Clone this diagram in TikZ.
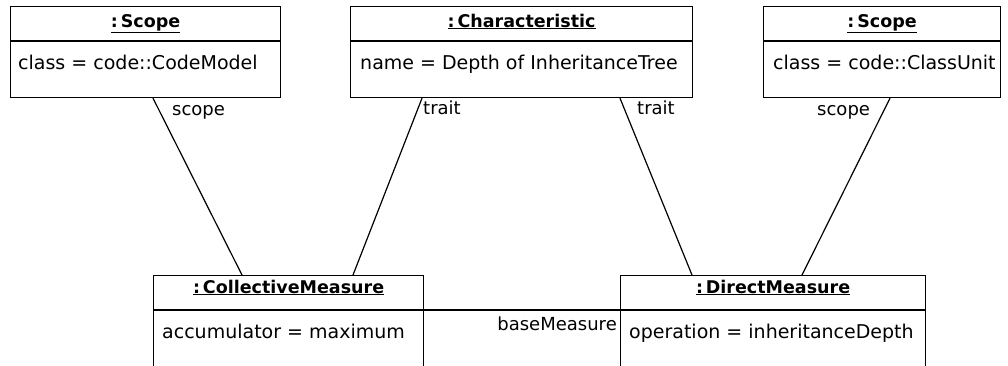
\documentclass[tikz,border=0pt]{standalone}
\usepackage{fontspec}
\setmainfont{DejaVu Sans}
\usetikzlibrary{calc}
\tikzset{
  objbox/.style={draw, line width=1.2pt, rectangle, inner sep=0pt, anchor=north west},
  objtitle/.style={anchor=base, inner sep=0pt, font=\fontsize{17.5}{20}\selectfont\bfseries},
  objattr/.style={anchor=base west, inner sep=0pt, font=\fontsize{19}{22}\selectfont},
  rolename/.style={inner sep=0pt, font=\fontsize{18}{21}\selectfont},
  link/.style={line width=1.2pt},
}
\begin{document}
\begin{tikzpicture}[x=1pt,y=-1pt]
\useasboundingbox (0,0) rectangle (1008,365);
\clip (0,0) rectangle (1008,365);
\fill[white] (0,0) rectangle (1008,365);

% object boxes
\node[objbox, minimum width=270pt, minimum height=91pt] (scopeL) at (10,6) {};
\node[objbox, minimum width=342pt, minimum height=91pt] (charac) at (350,6) {};
\node[objbox, minimum width=237pt, minimum height=91pt] (scopeR) at (763,6) {};
\node[objbox, minimum width=270pt, minimum height=110pt] (coll) at (153,275) {};
\node[objbox, minimum width=305pt, minimum height=110pt] (direct) at (620,275) {};

% compartment separators
\foreach \b in {scopeL,charac,scopeR,coll,direct}
  \draw[link] ([yshift=-35pt]\b.north west) -- ([yshift=-35pt]\b.north east);

% titles
\node[objtitle] (tScopeL) at ([yshift=-21pt]scopeL.north) {\underline{:\,Scope}};
\node[objtitle] (tCharac) at ([yshift=-21pt]charac.north) {\underline{:\,Characteristic}};
\node[objtitle] (tScopeR) at ([yshift=-21pt]scopeR.north) {\underline{:\,Scope}};
\node[objtitle] (tColl) at ([yshift=-18pt]coll.north) {\underline{:\,CollectiveMeasure}};
\node[objtitle] (tDirect) at ([yshift=-18pt]direct.north) {\underline{:\,DirectMeasure}};

% attributes
\node[objattr] (aScopeL) at ([xshift=8pt,yshift=-63pt]scopeL.north west) {class = code::CodeModel};
\node[objattr] (aCharac) at ([xshift=10pt,yshift=-63pt]charac.north west) {name = Depth of InheritanceTree};
\node[objattr] (aScopeR) at ([xshift=10pt,yshift=-63pt]scopeR.north west) {class = code::ClassUnit};
\node[objattr] (aColl) at ([xshift=9pt,yshift=-63pt]coll.north west) {accumulator = maximum};
\node[objattr] (aDirect) at ([xshift=9pt,yshift=-63pt]direct.north west) {operation = inheritanceDepth};

% links
\draw[link] ([xshift=143pt]scopeL.south west) -- ([xshift=89pt]coll.north west);
\draw[link] ([xshift=72pt]charac.south west) -- ([xshift=200pt]coll.north west);
\draw[link] ([xshift=270pt]charac.south west) -- ([xshift=72pt]direct.north west);
\draw[link] ([xshift=127pt]scopeR.south west) -- ([xshift=182pt]direct.north west);
\draw[link] ([yshift=-35pt]coll.north east) -- ([yshift=-35pt]direct.north west);

% role names
\node[rolename, anchor=base west] (rScopeL) at (172,115) {scope};
\node[rolename, anchor=base west] (rTraitL) at (423,114) {trait};
\node[rolename, anchor=base west] (rTraitR) at (637,114) {trait};
\node[rolename, anchor=base west] (rScopeR) at (817,115) {scope};
\node[rolename, anchor=base east] (rBase) at (617,330) {baseMeasure};
\end{tikzpicture}
\end{document}
